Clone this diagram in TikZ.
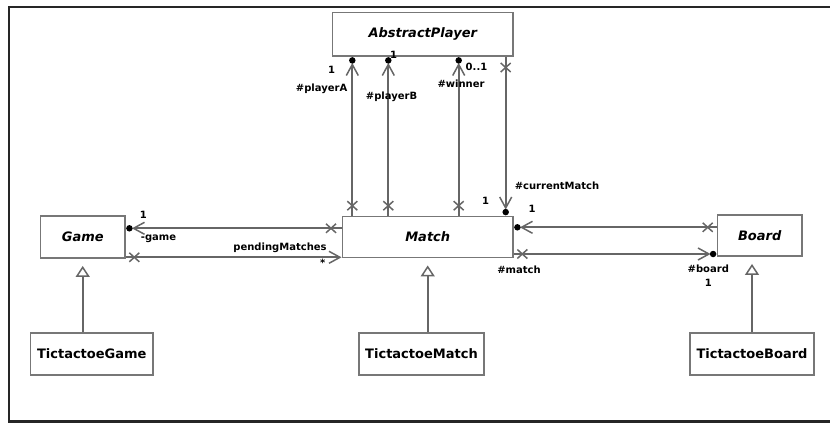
\documentclass[tikz,border=0pt]{standalone}
\usepackage{fontspec}
\setmainfont{DejaVu Sans}
\usetikzlibrary{arrows.meta}

\definecolor{edge}{HTML}{666666}
\definecolor{boxline}{HTML}{777777}
\definecolor{frameline}{HTML}{262626}

\tikzset{
  cls/.style={draw=boxline, line width=1.9pt, fill=white, inner sep=0pt,
    font=\fontsize{13}{15}\selectfont\bfseries},
  abstractcls/.style={cls, font=\fontsize{13}{15}\selectfont\bfseries\itshape},
  assoc/.style={draw=edge, line width=1.7pt},
  nav/.style={-{Straight Barb[length=11pt,width=12pt,line width=1.5pt]}},
  owned/.style={nav, shorten >=6pt},
  inherit/.style={assoc, -{Triangle[open,length=11pt,width=14pt,line width=1.5pt]}, shorten >=7pt},
  dot/.style={circle, fill=black, inner sep=0pt, minimum size=6.5pt},
  lbl/.style={inner sep=0pt, font=\fontsize{10}{12}\selectfont\bfseries},
  nox/.pic={\draw[edge, line width=1.5pt] (-5,-4.5) -- (5,4.5) (-5,4.5) -- (5,-4.5);}
}

\begin{document}
\begin{tikzpicture}[x=1pt, y=-1pt]
  \useasboundingbox (0,0) rectangle (830,423);

  % outer frame
  \draw[frameline, line width=2pt] (830,6.5) -- (9,6.5) -- (9,421.5);
  \draw[frameline, line width=3pt] (8,421.5) -- (830,421.5);

  % classes
  \node[abstractcls, minimum width=180.5pt, minimum height=43.5pt] (player) at (422.75,34.25) {AbstractPlayer};
  \node[abstractcls, minimum width=84.5pt, minimum height=42pt] (game) at (82.75,237) {Game};
  \node[abstractcls, minimum width=170.5pt, minimum height=41pt] (match) at (427.75,237) {Match};
  \node[abstractcls, minimum width=84.5pt, minimum height=41pt] (board) at (759.75,235.5) {Board};
  \node[cls, minimum width=122.5pt, minimum height=42pt] (tgame) at (91.75,354) {TictactoeGame};
  \node[cls, minimum width=125pt, minimum height=42pt] (tmatch) at (421.5,354) {TictactoeMatch};
  \node[cls, minimum width=124pt, minimum height=42pt] (tboard) at (752,354) {TictactoeBoard};

  % generalisations
  \draw[inherit] (82.7,0 |- tgame.north) -- (82.7,0 |- game.south);
  \draw[inherit] (427.7,0 |- tmatch.north) -- (427.7,0 |- match.south);
  \draw[inherit] (752,0 |- tboard.north) -- (752,0 |- board.south);

  % Match -> AbstractPlayer (playerA, playerB, winner)
  \foreach \px in {352.3, 388.3, 458.7} {
    \draw[assoc, owned] (\px,0 |- match.north) -- (\px,0 |- player.south);
    \node[dot, anchor=north] at (\px,0 |- player.south) {};
    \pic at (\px,205.7) {nox};
  }
  % AbstractPlayer -> Match (currentMatch)
  \draw[assoc, owned] (505.7,0 |- player.south) -- (505.7,0 |- match.north);
  \node[dot, anchor=south] at (505.7,0 |- match.north) {};
  \pic at (505.7,67.5) {nox};

  % Match -> Game (game)
  \draw[assoc, owned] (match.west |- 0,228.3) -- (game.east |- 0,228.3);
  \node[dot, anchor=west] at (game.east |- 0,228.3) {};
  \pic at (331,228.3) {nox};
  % Game -> Match (pendingMatches)
  \draw[assoc, nav] (game.east |- 0,257.3) -- (match.west |- 0,257.3);
  \pic at (134.3,257.3) {nox};

  % Board -> Match (match)
  \draw[assoc, owned] (board.west |- 0,227.3) -- (match.east |- 0,227.3);
  \node[dot, anchor=west] at (match.east |- 0,227.3) {};
  \pic at (707.7,227.3) {nox};
  % Match -> Board (board)
  \draw[assoc, owned] (match.east |- 0,254) -- (board.west |- 0,254);
  \node[dot, anchor=east] at (board.west |- 0,254) {};
  \pic at (522.3,254) {nox};

  % role names and multiplicities
  \node[lbl] (mA) at (331.5,70) {1};
  \node[lbl, anchor=east] (rA) at (347.5,89) {\#playerA};
  \node[lbl] (mB) at (393.5,54.5) {1};
  \node[lbl] (rB) at (391.5,97) {\#playerB};
  \node[lbl] (mW) at (476.5,67) {0..1};
  \node[lbl] (rW) at (461,83.5) {\#winner};
  \node[lbl] (rC) at (557,186) {\#currentMatch};
  \node[lbl] (mC) at (485.5,200.5) {1};
  \node[lbl] (mG) at (143.3,215) {1};
  \node[lbl] (rG) at (158.5,239) {-game};
  \node[lbl] (rP) at (280,247.5) {pendingMatches};
  \node[lbl] (mP) at (322.7,262.5) {*};
  \node[lbl] (mM) at (532,209) {1};
  \node[lbl] (rM) at (519,270) {\#match};
  \node[lbl] (rBo) at (708.3,268.7) {\#board};
  \node[lbl] (mBo) at (708.3,282.5) {1};
\end{tikzpicture}
\end{document}
